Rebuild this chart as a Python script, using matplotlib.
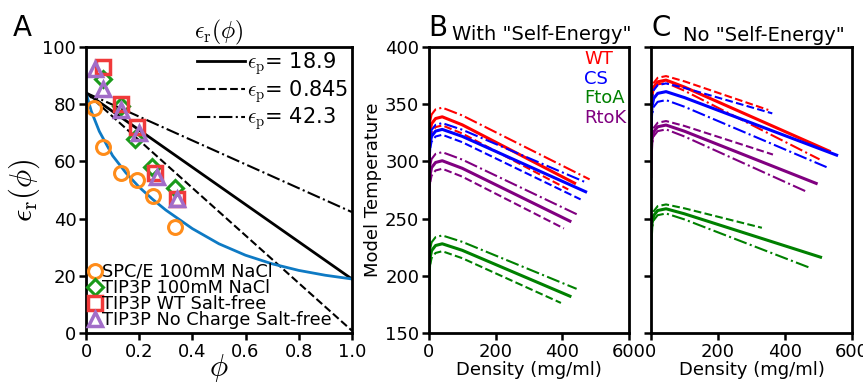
import numpy as np
import matplotlib.pyplot as plt
from matplotlib.lines import Line2D

# ---------------- panel A data ----------------
phi_line = [0.0, 1.0]
eps_solid = [84.0, 18.9]
eps_dash = [84.0, 0.845]
eps_dashdot = [84.0, 42.3]

phi_blue = [0.0, 0.02, 0.05, 0.1, 0.15, 0.2, 0.25, 0.3, 0.4, 0.5, 0.6, 0.7, 0.8, 0.9, 1.0]
eps_blue = [84.0, 77.5, 70.5, 62.0, 56.0, 51.0, 46.8, 43.0, 36.5, 31.2, 27.2, 24.2, 21.9, 20.2, 18.9]

spce_phi = [0.03, 0.065, 0.13, 0.19, 0.253, 0.335]
spce_eps = [78.8, 65.2, 56.0, 53.5, 47.9, 36.9]
tip_phi = [0.065, 0.13, 0.184, 0.25, 0.335]
tip_eps = [88.8, 79.4, 67.7, 58.2, 50.6]
wt_phi = [0.065, 0.13, 0.193, 0.26, 0.342]
wt_eps = [93.1, 80.0, 72.1, 56.0, 46.7]
nc_phi = [0.034, 0.065, 0.13, 0.2, 0.267, 0.342]
nc_eps = [92.3, 85.5, 78.0, 70.0, 54.4, 47.0]

# ---------------- panel B / C data ----------------
# density (mg/ml) and model temperature
B = {
    ('WT', '-'):   ([0, 1, 3, 8, 20, 40, 100, 437], [289, 314, 326, 333, 337.5, 339, 332.0, 281.0]),
    ('WT', '--'):  ([0, 1, 3, 8, 20, 40, 100, 418], [281.5, 306.5, 318.5, 325.5, 330, 331.5, 324.4, 275.5]),
    ('WT', '-.'):  ([0, 1, 3, 8, 20, 40, 100, 482], [297, 322, 334, 341, 345.5, 347, 340.2, 284.3]),
    ('CS', '-'):   ([0, 1, 3, 8, 20, 40, 100, 470], [278, 303, 315, 322, 326.5, 328, 321.9, 273.5]),
    ('CS', '--'):  ([0, 1, 3, 8, 20, 40, 100, 455], [273.3, 298.3, 310.3, 317.3, 321.8, 323.3, 316.8, 266.8]),
    ('CS', '-.'):  ([0, 1, 3, 8, 20, 40, 100, 473], [283.5, 308.5, 320.5, 327.5, 332, 333.5, 327.7, 281.4]),
    ('FtoA', '-'): ([0, 1, 3, 8, 20, 40, 100, 423], [176, 203, 215, 222, 226.5, 228, 222.3, 182.2]),
    ('FtoA', '--'):([0, 1, 3, 8, 20, 40, 100, 396], [171.5, 196.5, 208.5, 215.5, 220, 221.5, 215.4, 176.3]),
    ('FtoA', '-.'):([0, 1, 3, 8, 20, 40, 100, 443], [185.3, 210.3, 222.3, 229.3, 233.8, 235.3, 229.7, 188.6]),
    ('RtoK', '-'): ([0, 1, 3, 8, 20, 40, 100, 423], [250.6, 275.6, 287.6, 294.6, 299.1, 300.6, 294.0, 247.8]),
    ('RtoK', '--'):([0, 1, 3, 8, 20, 40, 100, 405], [243.6, 268.6, 280.6, 287.6, 292.1, 293.6, 286.7, 241.4]),
    ('RtoK', '-.'):([0, 1, 3, 8, 20, 40, 100, 445], [258.1, 283.1, 295.1, 302.1, 306.6, 308.1, 301.6, 253.6]),
}
C = {
    ('WT', '-'):   ([0, 1, 3, 8, 20, 45, 100, 532], [326, 346, 358, 365, 369.6, 371.1, 365.0, 309.0]),
    ('WT', '--'):  ([0, 1, 3, 8, 20, 45, 100, 350], [329.6, 349.6, 361.6, 368.6, 373.1, 374.6, 370.0, 345.0]),
    ('WT', '-.'):  ([0, 1, 3, 8, 20, 45, 100, 503], [323.8, 343.8, 355.8, 362.8, 367.3, 368.8, 361.8, 301.8]),
    ('CS', '-'):   ([0, 1, 3, 8, 20, 45, 100, 554], [316, 336, 348, 355, 359.5, 361, 355.8, 305.5]),
    ('CS', '--'):  ([0, 1, 3, 8, 20, 45, 100, 362], [323.2, 343.2, 355.2, 362.2, 366.7, 368.2, 364.3, 342.0]),
    ('CS', '-.'):  ([0, 1, 3, 8, 20, 45, 100, 524], [308.6, 328.6, 340.6, 347.6, 352.1, 353.6, 347.8, 295.0]),
    ('FtoA', '-'): ([0, 1, 3, 8, 20, 45, 100, 506], [213.6, 233.6, 245.6, 252.6, 257.1, 258.6, 254.2, 216.3]),
    ('FtoA', '--'):([0, 1, 3, 8, 20, 45, 100, 331], [217.4, 237.4, 249.4, 256.4, 260.9, 262.4, 259.0, 242.0]),
    ('FtoA', '-.'):([0, 1, 3, 8, 20, 45, 100, 470], [209.5, 229.5, 241.5, 248.5, 253, 254.5, 249.3, 207.5]),
    ('RtoK', '-'): ([0, 1, 3, 8, 20, 45, 100, 493], [286.8, 306.8, 318.8, 325.8, 330.3, 331.8, 326.4, 280.8]),
    ('RtoK', '--'):([0, 1, 3, 8, 20, 45, 100, 364], [290.3, 310.3, 322.3, 329.3, 333.8, 335.3, 331.0, 306.0]),
    ('RtoK', '-.'):([0, 1, 3, 8, 20, 45, 100, 461], [283, 303, 315, 322, 326.5, 328, 321.8, 274.0]),
}
proteins = ['WT', 'CS', 'FtoA', 'RtoK']
pcolors = {'WT': 'red', 'CS': 'blue', 'FtoA': 'green', 'RtoK': 'purple'}
lwidths = {'-': 2.2, '--': 1.5, '-.': 1.5}

plt.rcParams['font.family'] = 'DejaVu Sans'
plt.rcParams['mathtext.fontset'] = 'cm'

fig = plt.figure(figsize=(8.63, 3.83), dpi=100)
axA = fig.add_axes([0.0997, 0.1305, 0.308, 0.7467])
axB = fig.add_axes([0.497, 0.1305, 0.2318, 0.7467])
axC = fig.add_axes([0.7543, 0.1305, 0.233, 0.7467])

for ax in (axA, axB, axC):
    for s in ax.spines.values():
        s.set_linewidth(2)
    ax.tick_params(width=1.8, length=5, labelsize=13, pad=2)

# ---- A ----
l1, = axA.plot(phi_line, eps_solid, 'k-', lw=2)
l2, = axA.plot(phi_line, eps_dash, 'k--', lw=1.5)
l3, = axA.plot(phi_line, eps_dashdot, 'k-.', lw=1.5)
axA.plot(phi_blue, eps_blue, color='#0e7ac4', lw=2)
m1, = axA.plot(spce_phi, spce_eps, 'o', ms=10, mfc='none', mec='#ff8c1a', mew=2.2, ls='none')
m2, = axA.plot(tip_phi, tip_eps, 'D', ms=8, mfc='none', mec='#1a9a1a', mew=2.2, ls='none')
m3, = axA.plot(wt_phi, wt_eps, 's', ms=10, mfc='none', mec='#f03a3a', mew=2.5, ls='none')
m4, = axA.plot(nc_phi, nc_eps, '^', ms=10, mfc='none', mec='#a26dc8', mew=2.5, ls='none')
axA.set_xlim(0, 1)
axA.set_ylim(0, 100)
axA.set_xticks([0, 0.2, 0.4, 0.6, 0.8, 1.0])
axA.set_xticklabels(['0', '0.2', '0.4', '0.6', '0.8', '1.0'])
axA.set_xlabel(r'$\phi$', fontsize=22, labelpad=-6)
axA.set_ylabel(r'$\epsilon_{\rm r}(\phi)$', fontsize=22, labelpad=0)
axA.set_title(r'$\epsilon_{\rm r}(\phi)$', fontsize=17, pad=4)
leg1 = axA.legend([l1, l2, l3],
                  [r'$\epsilon_{\rm p}$= 18.9', r'$\epsilon_{\rm p}$= 0.845', r'$\epsilon_{\rm p}$= 42.3'],
                  loc='upper right', frameon=False, fontsize=15, handlelength=2.3,
                  handletextpad=0.1, labelspacing=0.05, borderaxespad=0.05,
                  borderpad=0.1)
axA.add_artist(leg1)
axA.legend([m1, m2, m3, m4],
           ['SPC/E 100mM NaCl', 'TIP3P 100mM NaCl', 'TIP3P WT Salt-free',
            'TIP3P No Charge Salt-free'],
           loc='lower left', frameon=False, fontsize=12.8, handlelength=0.6,
           handletextpad=0.1, labelspacing=-0.1, borderaxespad=0.1, borderpad=0.1)

# ---- B and C ----
for ax, data in ((axB, B), (axC, C)):
    for (p, ls), (d, t) in data.items():
        ax.plot(d, t, color=pcolors[p], ls=ls, lw=lwidths[ls])
    ax.set_xlim(0, 600)
    ax.set_ylim(150, 400)
    ax.set_xticks([0, 200, 400, 600])
    ax.set_xlabel('Density (mg/ml)', fontsize=13, labelpad=0)

axB.set_ylabel('Model Temperature', fontsize=13, labelpad=2)
axC.set_yticks(axB.get_yticks())
axC.set_ylim(150, 400)
axC.set_yticklabels([])

handles = [Line2D([], [], color=pcolors[p], lw=0) for p in proteins]
axB.legend(handles, proteins, loc='upper right', frameon=False, fontsize=13,
           handlelength=0, handletextpad=0, labelcolor='linecolor',
           labelspacing=0.1, borderaxespad=0.05, borderpad=0.1)

fig.text(0.015, 0.905, 'A', fontsize=20)
fig.text(0.496, 0.905, 'B', fontsize=20)
fig.text(0.755, 0.905, 'C', fontsize=20)
fig.text(0.524, 0.895, 'With "Self-Energy"', fontsize=14, va='baseline')
fig.text(0.792, 0.893, 'No "Self-Energy"', fontsize=14, va='baseline')

fig.savefig('out.png', dpi=100)
